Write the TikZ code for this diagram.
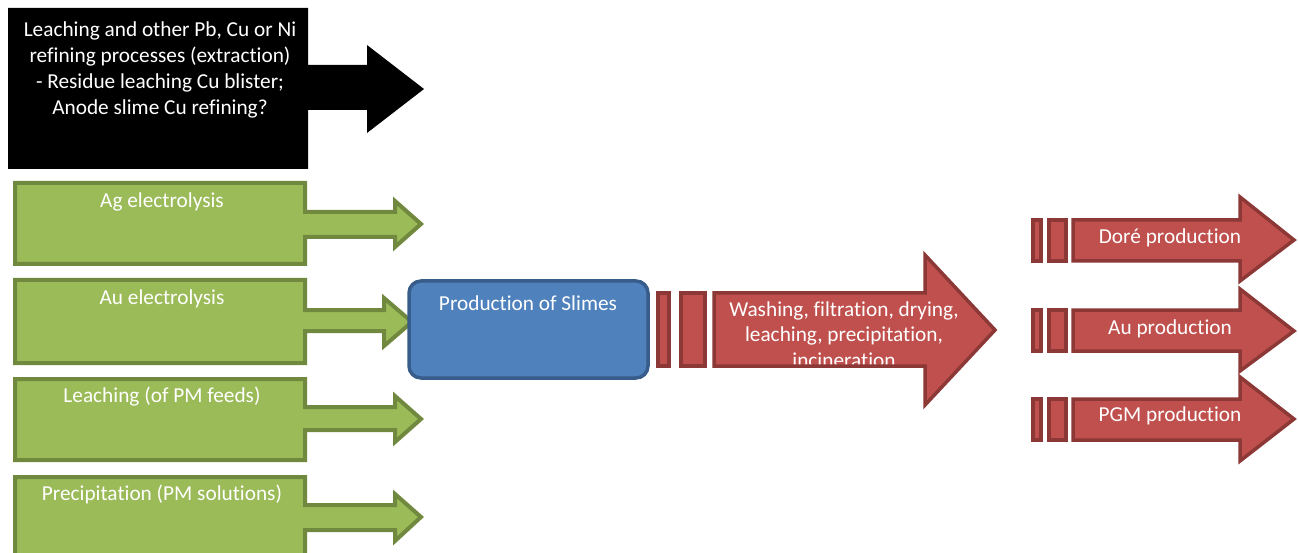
\documentclass[tikz,border=0pt]{standalone}
\usepackage{fontspec}
\setmainfont[Ligatures={NoCommon}]{Carlito}
\definecolor{grfill}{HTML}{9BBB59}
\definecolor{grline}{HTML}{71893F}
\definecolor{blfill}{HTML}{4F81BD}
\definecolor{blline}{HTML}{385D8A}
\definecolor{rdfill}{HTML}{C0504D}
\definecolor{rdline}{HTML}{8C3836}

% block arrow outline: body from x=#1, body y=#3..#4, head base x=#5,
% head y=#6..#7, tip (#8,#9)
\newcommand\blockarrowpath[9]{(#1,#3) -- (#5,#3) -- (#5,#6) -- (#8,#9) -- (#5,#7) -- (#5,#4) -- (#1,#4) -- cycle}

\begin{document}
\begin{tikzpicture}[x=1pt,y=-1pt,
  lbl/.style={text=white, font=\fontsize{21.3}{25.8}\selectfont, align=center, inner sep=0pt},
  greenshape/.style={fill=grfill, draw=grline, line width=4pt, line join=miter},
  redfill/.style={fill=rdfill},
  redline/.style={draw=rdline, line width=3.5pt, line join=miter},
  redshape/.style={redfill, redline},
  slimebox/.style={draw=blline, fill=blfill, rounded corners=12pt, line width=3.5pt,
    minimum width=239pt, minimum height=97pt, inner sep=0pt}]
\useasboundingbox (0,0) rectangle (1298,553);
\clip (0,0) rectangle (1298,553);

% extraction source (black block arrow)
\fill[black] (8,8) -- (308,8) -- (308,65) -- (367,65) -- (367,45) -- (424,89)
  -- (367,133) -- (367,110) -- (308,110) -- (308,169) -- (8,169) -- cycle;
\node[lbl] (extr) at (160,70) {Leaching and other Pb, Cu or Ni\\refining processes (extraction)\\- Residue leaching Cu blister;\\Anode slime Cu refining?};

% green feed processes: box with attached arrow
\draw[greenshape] (15,183) -- (305,183) -- (305,212) -- (395,212) -- (395,201) -- (421,224)
  -- (395,247) -- (395,237) -- (305,237) -- (305,264) -- (15,264) -- cycle;
\node[lbl] (agel) at (162,202) {Ag electrolysis};

\draw[greenshape] (15,280) -- (305,280) -- (305,310) -- (384,310) -- (384,298) -- (412,322)
  -- (384,346) -- (384,331) -- (305,331) -- (305,363) -- (15,363) -- cycle;
\node[lbl] (auel) at (162,299) {Au electrolysis};

\draw[greenshape] (15,379) -- (305,379) -- (305,407) -- (395,407) -- (395,396) -- (421,419)
  -- (395,442) -- (395,430) -- (305,430) -- (305,460) -- (15,460) -- cycle;
\node[lbl] (leach) at (162,397) {Leaching (of PM feeds)};

\draw[greenshape] (15,477) -- (305,477) -- (305,505) -- (395,505) -- (395,494) -- (421,517)
  -- (395,541) -- (395,530) -- (305,530) -- (305,570) -- (15,570) -- cycle;
\node[lbl] (precip) at (162,494) {Precipitation (PM solutions)};

% central slime production
\node[slimebox] (slimes) at (528.5,329.5) {};
\node[lbl] (slimestxt) at (528,303) {Production of Slimes};

% slime treatment arrow
\draw[redshape] (658,293) rectangle (669,366);
\draw[redshape] (681,293) rectangle (705,366);
\path[redfill] \blockarrowpath{714}{}{293}{366}{925}{255}{405}{995}{330};
\begin{scope}
  \clip (700,280) rectangle (1000,367);
  \node[lbl] (wash) at (844,334.5) {Washing, filtration, drying,\\leaching, precipitation,\\incineration};
\end{scope}
\path[redline] \blockarrowpath{714}{}{293}{366}{925}{255}{405}{995}{330};

% products
\draw[redshape] (1033,220) rectangle (1041,261);
\draw[redshape] (1049,220) rectangle (1066,261);
\draw[redshape] \blockarrowpath{1073}{}{220}{261}{1240}{197}{281}{1294}{240};
\node[lbl] (dore) at (1170,238) {Doré production};

\draw[redshape] (1033,310) rectangle (1041,351);
\draw[redshape] (1049,310) rectangle (1066,351);
\draw[redshape] \blockarrowpath{1073}{}{310}{351}{1240}{289}{371}{1294}{331};
\node[lbl] (aupr) at (1170,329) {Au production};

\draw[redshape] (1033,399) rectangle (1041,440);
\draw[redshape] (1049,399) rectangle (1066,440);
\draw[redshape] \blockarrowpath{1073}{}{399}{440}{1240}{377}{461}{1294}{419};
\node[lbl] (pgm) at (1170,416) {PGM production};
\end{tikzpicture}
\end{document}
